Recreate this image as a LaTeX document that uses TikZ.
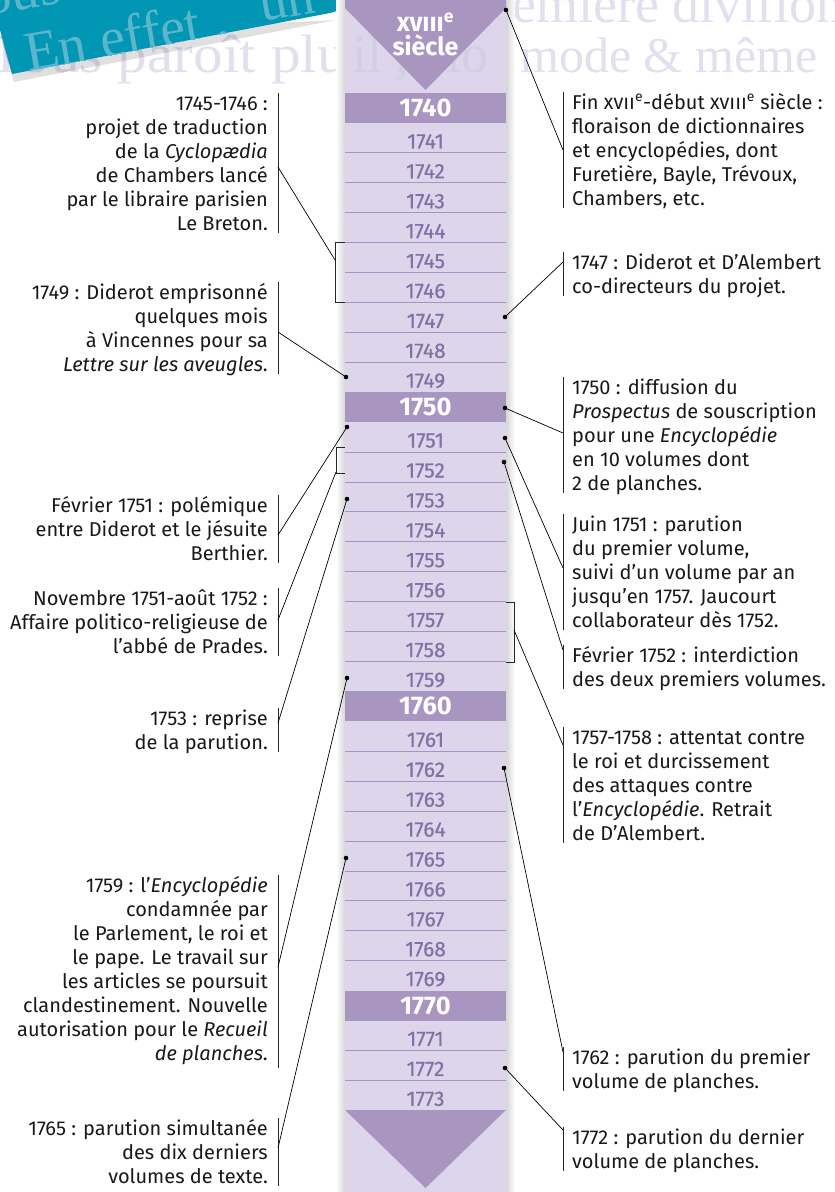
\documentclass[tikz,border=0pt]{standalone}
\usepackage{fontspec}
\setmainfont{Fira Sans}
\newfontfamily\wmfont{Liberation Serif}
\newfontfamily\yrfont[FakeBold=0.5]{Fira Sans}
\usetikzlibrary{calc}
\definecolor{colbg}{HTML}{DDD6EA}
\definecolor{coldark}{HTML}{A896C1}
\definecolor{colline}{HTML}{A593C4}
\definecolor{yeartxt}{HTML}{8470A6}
\definecolor{bannerteal}{HTML}{0096B4}
\definecolor{bannertext}{HTML}{5CB6CB}
\definecolor{wm}{HTML}{E4DFEE}
\definecolor{wmcol}{HTML}{CFC6E0}
\newcommand\lblstrut{\rule{0pt}{19pt}}
\begin{document}
\begin{tikzpicture}[x=1pt,y=-1pt,
  lbl/.style={font=\fontsize{20}{24}\selectfont, inner sep=0pt, text=black!90},
  lft/.style={lbl, align=right, anchor=north east},
  rgt/.style={lbl, align=left, anchor=north west},
  yr/.style={font=\yrfont\fontsize{21}{22}\selectfont, text=yeartxt, inner sep=0pt},
  dec/.style={font=\fontsize{25.5}{26}\selectfont\bfseries, text=white, inner sep=0pt},
  bar/.style={draw=black!85, line width=0.9pt},
  conn/.style={draw=black, line width=0.7pt},
  brk/.style={draw=black!85, line width=0.9pt},
  dot/.style={circle, fill=black, inner sep=0pt, minimum size=4.6pt},
  wmtext/.style={font=\wmfont\fontsize{54}{54}\selectfont, text=wm, inner sep=0pt},
  bantext/.style={font=\wmfont\fontsize{56}{56}\selectfont, text=bannertext, rotate=10, anchor=base west, inner sep=0pt},
]
\useasboundingbox (0,0) rectangle (835,1192);
\fill[white] (0,0) rectangle (835,1192);
% watermark
\node[wmtext, anchor=base west, xscale=1.1] (wm1) at (-12,72) {Tous paroît plu};
\node[wmtext, font=\wmfont\fontsize{50}{50}\selectfont, anchor=base west] (wm2) at (520,72) {mode \& même};
\node[wmtext, anchor=base west] (wm3) at (512,22) {emiere divifion};
% banner
\fill[black, opacity=0.12] (0,36) -- (336,20) -- (14,82) -- cycle;
\fill[bannerteal] (0,0) -- (374,0) -- (330,13) -- (12,74) -- (0,30) -- cycle;
\begin{scope}
\clip (0,0) -- (374,0) -- (330,13) -- (12,74) -- (0,30) -- cycle;
\node[bantext] (b1) at (28,72) {En effet ,};
\node[bantext] (b2) at (262,22) {un};
\node[bantext] (b3) at (-14,16) {ous P};
\end{scope}
% column shadow
\shade[left color=white, right color=black!16] (336,0) rectangle (345,1192);
\shade[left color=black!16, right color=white] (506,0) rectangle (515,1192);
% column
\fill[colbg] (345,0) rectangle (506,1192);
\node[wmtext, text=wmcol, anchor=base west, opacity=0.5] (wm4) at (352,72) {il , elo};
\fill[coldark] (345,0) -- (506,0) -- (506,8) -- (425.5,90) -- (345,8) -- cycle;
\fill[coldark] (345,1110) -- (506,1110) -- (425.5,1188) -- cycle;
\node[font=\fontsize{25}{25}\selectfont\bfseries, text=white, inner sep=0pt] (sx) at (425.5,22) {\textsc{xviii}\textsuperscript{e}};
\node[font=\fontsize{25}{25}\selectfont\bfseries, text=white, inner sep=0pt] (ss) at (425.5,45) {siècle};
% rows
\foreach \i in {0,...,33}{
  \pgfmathsetmacro\yt{93+29.92*\i}
  \pgfmathtruncatemacro\yrv{1740+\i}
  \pgfmathtruncatemacro\md{mod(\i,10)}
  \ifnum\md=0
    \fill[coldark] (345,\yt) rectangle (506,\yt+29.92);
    \node[dec] (y\i) at (425.5,\yt+15) {\yrv};
  \else
    \node[yr] (y\i) at (425.5,\yt+18.5) {\yrv};
    \ifnum\md>1
      \draw[colline, line width=0.8pt] (345,\yt) -- (506,\yt);
    \fi
  \fi
}
\draw[colline, line width=0.8pt] (345,93+29.92*33) -- (506,93+29.92*33);
% brackets
\draw[brk] (345,242) -- (335,242) -- (335,302) -- (345,302);
\coordinate (k1) at (335,260);
\draw[brk] (345,447) -- (336,447) -- (336,473) -- (345,473);
\coordinate (k2) at (336,472);
\draw[brk] (506,602) -- (514,602) -- (514,662) -- (506,662);
\coordinate (k3) at (514,630);
% dots
\node[dot] (dR1) at (506,10) {};
\node[dot] (dR2) at (505,317) {};
\node[dot] (dR3) at (505,408) {};
\node[dot] (dR4) at (505,438) {};
\node[dot] (dR5) at (504,462) {};
\node[dot] (dR7) at (504,768) {};
\node[dot] (dR8) at (505,1068) {};
\node[dot] (dL2) at (346,377) {};
\node[dot] (dL3) at (347,427) {};
\node[dot] (dL5) at (347,499) {};
\node[dot] (dL6) at (347,678) {};
\node[dot] (dL7) at (346,858) {};
% left labels
\node[lft] (L1) at (268,91) {\lblstrut 1745-1746 :\\projet de traduction\\de la \textit{Cyclopædia}\\de Chambers lancé\\par le libraire parisien\\Le Breton.};
\draw[bar] (278,93) -- (278,233);
\coordinate (a1) at (278,167);
\node[lft] (L2) at (268,280) {\lblstrut 1749 : Diderot emprisonné\\quelques mois\\à Vincennes pour sa\\\textit{Lettre sur les aveugles}.};
\draw[bar] (278,282) -- (278,374);
\coordinate (a2) at (278,332);
\node[lft] (L3) at (268,493) {\lblstrut Février 1751 : polémique\\entre Diderot et le jésuite\\Berthier.};
\draw[bar] (278,495) -- (278,563);
\coordinate (a3) at (278,535);
\node[lft] (L4) at (268,586) {\lblstrut Novembre 1751-août 1752 :\\Affaire politico-religieuse de\\l’abbé de Prades.};
\draw[bar] (278,588) -- (278,656);
\coordinate (a4) at (278,620);
\node[lft] (L5) at (268,706) {\lblstrut 1753 : reprise\\de la parution.};
\draw[bar] (278,708) -- (278,752);
\coordinate (a5) at (278,723);
\node[lft] (L6) at (268,873) {\lblstrut 1759 : l’\textit{Encyclopédie}\\condamnée par\\le Parlement, le roi et\\le pape. Le travail sur\\les articles se poursuit\\clandestinement. Nouvelle\\autorisation pour le \textit{Recueil}\\\textit{de planches}.};
\draw[bar] (278,875) -- (278,1068);
\coordinate (a6) at (278,967);
\node[lft] (L7) at (268,1116) {\lblstrut 1765 : parution simultanée\\des dix derniers\\volumes de texte.};
\draw[bar] (278,1118) -- (278,1186);
\coordinate (a7) at (278,1148);
% right labels
\node[rgt] (R1) at (572,90) {\lblstrut Fin \textsc{xvii}\textsuperscript{e}-début \textsc{xviii}\textsuperscript{e} siècle :\\floraison de dictionnaires\\et encyclopédies, dont\\Furetière, Bayle, Trévoux,\\Chambers, etc.};
\draw[bar] (563,92) -- (563,208);
\coordinate (r1) at (563,150);
\node[rgt] (R2) at (572,250) {\lblstrut 1747 : Diderot et D’Alembert\\co-directeurs du projet.};
\draw[bar] (563,252) -- (563,296);
\coordinate (r2) at (563,262);
\node[rgt] (R3) at (572,375) {\lblstrut 1750 : diffusion du\\\textit{Prospectus} de souscription\\pour une \textit{Encyclopédie}\\en 10 volumes dont\\2 de planches.};
\draw[bar] (563,377) -- (563,493);
\coordinate (r3) at (563,433);
\node[rgt] (R4) at (572,512) {\lblstrut Juin 1751 : parution\\du premier volume,\\suivi d’un volume par an\\jusqu’en 1757. Jaucourt\\collaborateur dès 1752.};
\draw[bar] (563,514) -- (563,630);
\coordinate (r4) at (563,568);
\node[rgt] (R5) at (572,643) {\lblstrut Février 1752 : interdiction\\des deux premiers volumes.};
\draw[bar] (563,645) -- (563,689);
\coordinate (r5) at (563,650);
\node[rgt] (R6) at (572,725) {\lblstrut 1757-1758 : attentat contre\\le roi et durcissement\\des attaques contre\\l’\textit{Encyclopédie}. Retrait\\de D’Alembert.};
\draw[bar] (563,727) -- (563,843);
\coordinate (r6) at (563,745);
\node[rgt] (R7) at (572,1045) {\lblstrut 1762 : parution du premier\\volume de planches.};
\draw[bar] (563,1047) -- (563,1091);
\coordinate (r7) at (563,1052);
\node[rgt] (R8) at (572,1125) {\lblstrut 1772 : parution du dernier\\volume de planches.};
\draw[bar] (563,1127) -- (563,1171);
\coordinate (r8) at (563,1130);
% connectors
\draw[conn] (a1) -- (k1);
\draw[conn] (a2) -- (dL2.center);
\draw[conn] (a3) -- (dL3.center);
\draw[conn] (a4) -- (k2);
\draw[conn] (a5) -- (dL5.center);
\draw[conn] (a6) -- (dL6.center);
\draw[conn] (a7) -- (dL7.center);
\draw[conn] (dR1.center) -- (r1);
\draw[conn] (dR2.center) -- (r2);
\draw[conn] (dR3.center) -- (r3);
\draw[conn] (dR4.center) -- (r4);
\draw[conn] (dR5.center) -- (r5);
\draw[conn] (k3) -- (r6);
\draw[conn] (dR7.center) -- (r7);
\draw[conn] (dR8.center) -- (r8);
\end{tikzpicture}
\end{document}
